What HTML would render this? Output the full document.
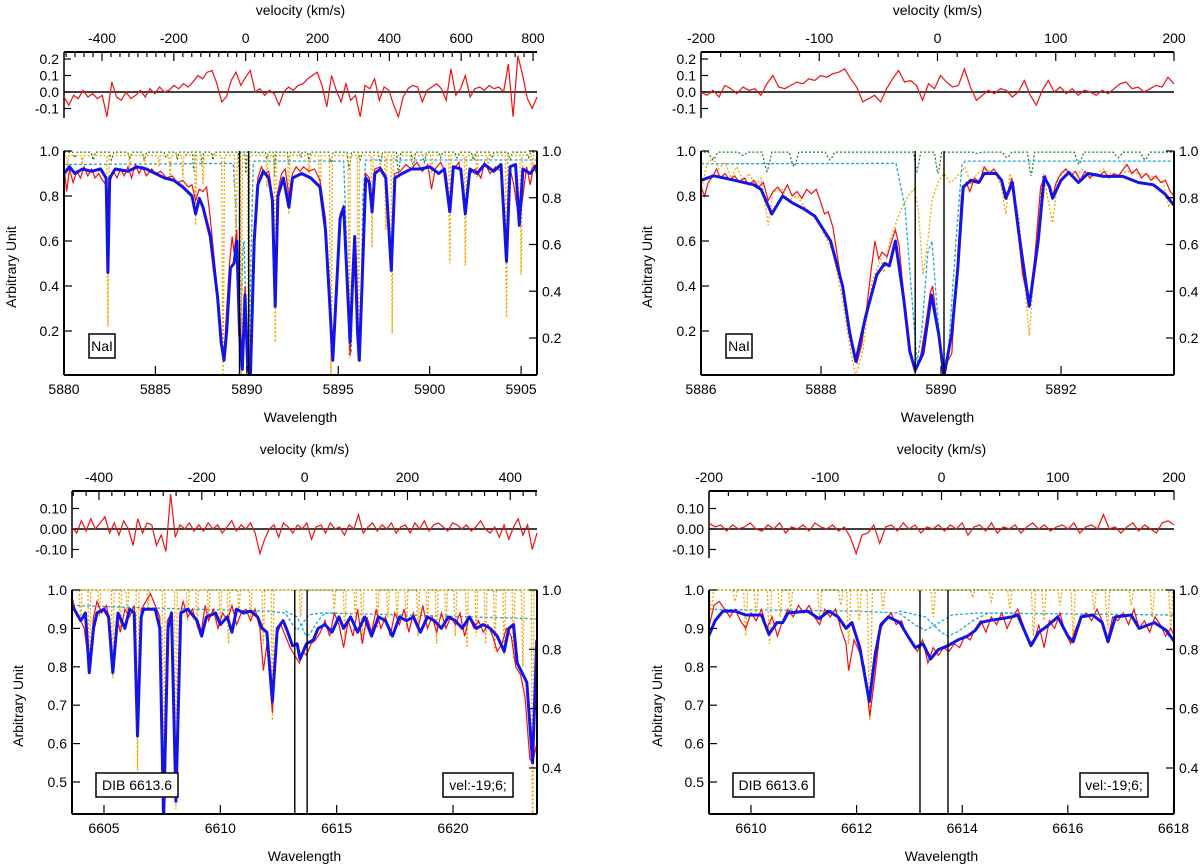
<!DOCTYPE html>
<html><head><meta charset="utf-8"><title>Spectral fits</title>
<style>
html,body{margin:0;padding:0;background:#fff;}
svg{display:block;font-family:"Liberation Sans",sans-serif;}
</style></head>
<body>
<svg id="chart" width="1200" height="868" viewBox="0 0 1200 868" xmlns="http://www.w3.org/2000/svg"></svg>
<script>
// ---------------- DATA ----------------
const topCyan = [[5880,0.94],[5889.25,0.945],[5889.4,0.75],[5889.5,0.4],[5889.6,0.06],[5889.68,0.2],[5889.78,0.55],[5889.85,0.6],[5889.92,0.35],[5890.02,0.02],[5890.12,0.1],[5890.25,0.6],[5890.35,0.94],[5890.4,0.955],[5895.3,0.955],[5895.45,0.6],[5895.6,0.12],[5895.7,0.1],[5895.85,0.55],[5895.95,0.6],[5896.1,0.07],[5896.2,0.1],[5896.35,0.8],[5896.5,0.96],[5906,0.96]];
const topGreenDips = [[5880.6,0.97,0.12],[5881.6,0.96,0.12],[5882.6,0.96,0.12],[5883.6,0.97,0.12],[5884.4,0.96,0.12],[5885.6,0.97,0.12],[5886.2,0.96,0.08],[5886.7,0.98,0.08],[5887.1,0.91,0.08],[5887.55,0.93,0.08],[5888.15,0.96,0.08],[5889.6,0.91,0.06],[5889.95,0.9,0.06],[5890.6,0.99,0.08],[5891.1,0.97,0.08],[5891.5,0.89,0.06],[5892.3,0.94,0.08],[5892.95,0.97,0.08],[5893.4,0.96,0.08],[5894.6,0.95,0.12],[5895.6,0.92,0.12],[5896.2,0.96,0.12],[5897.3,0.94,0.12],[5898.3,0.9,0.12],[5899.1,0.93,0.12],[5899.7,0.95,0.12],[5900.6,0.97,0.12],[5901.5,0.97,0.12],[5902.4,0.96,0.12],[5903.4,0.97,0.12],[5904.4,0.96,0.12],[5905.4,0.97,0.12]];

const tlFit = [[5880,0.90],[5880.3,0.93],[5880.6,0.90],[5881,0.92],[5881.5,0.91],[5882,0.92],[5882.3,0.88],[5882.4,0.46],[5882.5,0.88],[5882.8,0.92],[5883.5,0.91],[5884,0.93],[5884.5,0.92],[5885,0.90],[5885.5,0.88],[5886,0.87],[5886.5,0.84],[5887,0.80],[5887.2,0.72],[5887.4,0.79],[5887.6,0.75],[5888,0.62],[5888.4,0.35],[5888.6,0.15],[5888.75,0.07],[5888.9,0.20],[5889.1,0.48],[5889.3,0.50],[5889.45,0.60],[5889.6,0.20],[5889.75,0.03],[5889.9,0.36],[5890.05,0.03],[5890.2,0.01],[5890.4,0.60],[5890.6,0.85],[5890.9,0.91],[5891.2,0.88],[5891.4,0.78],[5891.55,0.31],[5891.7,0.80],[5892,0.88],[5892.3,0.75],[5892.5,0.88],[5893,0.90],[5893.5,0.88],[5894,0.84],[5894.3,0.65],[5894.55,0.30],[5894.7,0.07],[5894.85,0.30],[5895.1,0.70],[5895.3,0.75],[5895.5,0.40],[5895.65,0.15],[5895.8,0.45],[5895.9,0.62],[5896.05,0.20],[5896.15,0.07],[5896.3,0.40],[5896.5,0.88],[5896.7,0.86],[5896.85,0.73],[5897,0.90],[5897.3,0.92],[5897.6,0.88],[5897.9,0.47],[5898.1,0.88],[5898.5,0.90],[5899,0.92],[5899.5,0.92],[5900,0.93],[5900.5,0.90],[5900.8,0.92],[5901.1,0.73],[5901.3,0.93],[5901.7,0.92],[5901.95,0.72],[5902.2,0.92],[5902.6,0.90],[5903,0.94],[5903.5,0.91],[5903.9,0.94],[5904.2,0.51],[5904.4,0.93],[5904.7,0.94],[5904.9,0.67],[5905.1,0.92],[5905.5,0.90],[5905.9,0.94]];
const tlObs = [[5880,0.93],[5880.15,0.82],[5880.3,0.92],[5880.5,0.86],[5880.7,0.91],[5880.9,0.88],[5881.1,0.93],[5881.3,0.89],[5881.5,0.92],[5881.7,0.88],[5881.9,0.90],[5882.1,0.87],[5882.3,0.85],[5882.4,0.48],[5882.5,0.86],[5882.7,0.91],[5882.9,0.88],[5883.1,0.92],[5883.3,0.89],[5883.5,0.93],[5883.7,0.88],[5883.9,0.94],[5884.1,0.90],[5884.3,0.93],[5884.5,0.89],[5884.8,0.92],[5885,0.90],[5885.3,0.91],[5885.6,0.88],[5885.9,0.89],[5886.2,0.86],[5886.5,0.87],[5886.8,0.84],[5887,0.85],[5887.2,0.78],[5887.4,0.83],[5887.6,0.82],[5887.8,0.84],[5888,0.70],[5888.3,0.45],[5888.55,0.15],[5888.75,0.08],[5888.9,0.30],[5889.05,0.50],[5889.2,0.62],[5889.3,0.55],[5889.45,0.65],[5889.6,0.20],[5889.75,0.03],[5889.9,0.40],[5890.05,0.05],[5890.2,0.02],[5890.4,0.60],[5890.6,0.88],[5890.8,0.93],[5891,0.90],[5891.2,0.91],[5891.4,0.80],[5891.55,0.32],[5891.7,0.82],[5891.9,0.90],[5892.1,0.92],[5892.3,0.80],[5892.5,0.90],[5892.7,0.93],[5892.9,0.91],[5893.1,0.93],[5893.4,0.91],[5893.7,0.92],[5894,0.87],[5894.3,0.70],[5894.55,0.30],[5894.7,0.08],[5894.85,0.30],[5895.1,0.72],[5895.3,0.76],[5895.5,0.35],[5895.65,0.09],[5895.8,0.45],[5895.9,0.60],[5896.05,0.20],[5896.15,0.08],[5896.3,0.40],[5896.5,0.90],[5896.7,0.88],[5896.85,0.75],[5897,0.92],[5897.3,0.93],[5897.6,0.89],[5897.9,0.48],[5898.1,0.90],[5898.4,0.91],[5898.7,0.94],[5899,0.92],[5899.3,0.95],[5899.6,0.91],[5899.9,0.94],[5900.1,0.83],[5900.3,0.92],[5900.6,0.95],[5900.9,0.90],[5901.1,0.75],[5901.3,0.92],[5901.6,0.95],[5901.95,0.74],[5902.2,0.90],[5902.5,0.92],[5902.8,0.88],[5903,0.95],[5903.3,0.90],[5903.6,0.93],[5903.9,0.91],[5904.2,0.52],[5904.4,0.92],[5904.6,0.85],[5904.9,0.68],[5905.1,0.80],[5905.3,0.93],[5905.5,0.85],[5905.7,0.94],[5905.9,0.88]];
const tlTellDips = [[5880.2,0.93,0.06],[5881,0.94,0.06],[5882.4,0.22,0.06],[5883.6,0.93,0.06],[5884.4,0.94,0.06],[5885.2,0.93,0.06],[5885.8,0.88,0.06],[5886.5,0.88,0.06],[5887.2,0.67,0.06],[5887.6,0.85,0.06],[5888.7,0.0,0.08],[5889.4,0.6,0.08],[5889.7,0.0,0.06],[5890.1,0.0,0.06],[5891.1,0.84,0.06],[5891.55,0.15,0.06],[5892.3,0.72,0.06],[5893.4,0.9,0.06],[5894.0,0.80,0.08],[5894.6,0.0,0.08],[5895.6,0.08,0.06],[5896.1,0.07,0.06],[5896.85,0.57,0.06],[5897.6,0.65,0.06],[5897.95,0.19,0.06],[5899,0.95,0.06],[5900.1,0.90,0.06],[5901.1,0.50,0.06],[5901.95,0.49,0.06],[5902.6,0.88,0.06],[5903.2,0.94,0.06],[5904.2,0.26,0.06],[5905,0.45,0.06],[5905.6,0.90,0.06]];
const tlResid = [-0.03,-0.08,-0.02,-0.04,0.01,-0.03,-0.01,-0.04,-0.02,-0.15,0.06,-0.03,-0.05,0.00,-0.04,-0.02,0.01,-0.03,0.02,-0.01,0.03,0.00,0.01,0.04,0.02,0.05,0.03,0.06,0.10,0.08,0.12,0.13,0.05,-0.06,-0.03,0.07,0.12,0.04,0.09,0.13,0.00,0.02,-0.02,0.01,-0.01,-0.08,0.00,0.03,0.01,0.04,0.05,0.08,0.10,0.12,0.04,-0.09,0.10,0.01,-0.06,0.05,-0.05,-0.02,-0.15,0.04,0.02,0.08,-0.05,0.03,0.01,-0.08,-0.15,-0.03,0.02,0.04,0.03,-0.06,0.01,0.03,0.05,0.02,-0.05,0.14,-0.02,0.02,0.10,-0.03,0.02,0.03,0.01,0.04,0.02,0.03,0.00,0.17,-0.15,0.22,0.10,-0.04,-0.10,-0.03];
const tlVelTicks = [-400,-200,0,200,400,600,800];
const tlWaveTicks = [5880,5885,5890,5895,5900,5905];
const tlRefLines = [5889.6,5890.1];

const trFit = [[5886,0.87],[5886.21,0.89],[5886.44,0.877],[5886.88,0.85],[5887.0,0.83],[5887.18,0.72],[5887.36,0.80],[5887.52,0.77],[5887.7,0.745],[5887.9,0.71],[5888.16,0.60],[5888.36,0.40],[5888.48,0.19],[5888.58,0.065],[5888.74,0.26],[5888.93,0.45],[5889.06,0.50],[5889.14,0.49],[5889.24,0.60],[5889.38,0.34],[5889.48,0.11],[5889.57,0.025],[5889.7,0.10],[5889.84,0.36],[5889.96,0.19],[5890.05,0.0],[5890.18,0.19],[5890.28,0.48],[5890.37,0.84],[5890.5,0.87],[5890.63,0.86],[5890.72,0.90],[5890.92,0.90],[5891.01,0.87],[5891.08,0.79],[5891.19,0.86],[5891.3,0.63],[5891.47,0.31],[5891.62,0.60],[5891.72,0.885],[5891.81,0.84],[5891.86,0.79],[5892.0,0.87],[5892.13,0.905],[5892.29,0.86],[5892.45,0.90],[5892.71,0.887],[5893.03,0.887],[5893.29,0.86],[5893.54,0.85],[5893.73,0.81],[5893.88,0.76]];
const trObs = [[5886,0.84],[5886.06,0.80],[5886.12,0.86],[5886.2,0.89],[5886.26,0.92],[5886.32,0.88],[5886.4,0.90],[5886.48,0.87],[5886.56,0.89],[5886.64,0.86],[5886.72,0.88],[5886.8,0.85],[5886.88,0.87],[5886.96,0.84],[5887.04,0.86],[5887.12,0.78],[5887.2,0.82],[5887.28,0.84],[5887.36,0.81],[5887.44,0.85],[5887.52,0.80],[5887.6,0.82],[5887.68,0.79],[5887.76,0.83],[5887.84,0.81],[5887.92,0.83],[5888,0.77],[5888.06,0.72],[5888.12,0.73],[5888.2,0.66],[5888.28,0.52],[5888.36,0.39],[5888.44,0.24],[5888.52,0.14],[5888.6,0.06],[5888.68,0.14],[5888.76,0.30],[5888.84,0.48],[5888.9,0.60],[5888.96,0.52],[5889.02,0.55],[5889.1,0.53],[5889.18,0.60],[5889.24,0.65],[5889.3,0.58],[5889.38,0.36],[5889.48,0.12],[5889.57,0.03],[5889.66,0.09],[5889.74,0.22],[5889.82,0.37],[5889.86,0.40],[5889.94,0.22],[5890.02,0.03],[5890.1,0.06],[5890.18,0.10],[5890.26,0.44],[5890.34,0.80],[5890.42,0.86],[5890.48,0.82],[5890.56,0.88],[5890.64,0.86],[5890.72,0.93],[5890.8,0.90],[5890.88,0.92],[5890.96,0.89],[5891.04,0.85],[5891.1,0.80],[5891.18,0.88],[5891.26,0.70],[5891.36,0.45],[5891.47,0.32],[5891.56,0.52],[5891.66,0.84],[5891.74,0.89],[5891.8,0.84],[5891.86,0.80],[5891.92,0.86],[5892,0.90],[5892.08,0.92],[5892.16,0.89],[5892.24,0.91],[5892.32,0.87],[5892.4,0.91],[5892.48,0.88],[5892.56,0.90],[5892.64,0.89],[5892.72,0.91],[5892.8,0.88],[5892.88,0.90],[5892.96,0.89],[5893.04,0.92],[5893.1,0.94],[5893.18,0.90],[5893.26,0.92],[5893.34,0.88],[5893.42,0.90],[5893.5,0.87],[5893.58,0.89],[5893.66,0.86],[5893.74,0.87],[5893.82,0.82],[5893.88,0.80]];
const trTell = [[5886,0.82],[5886.1,0.94],[5886.2,0.97],[5886.3,0.92],[5886.4,0.95],[5886.5,0.88],[5886.6,0.93],[5886.7,0.86],[5886.8,0.90],[5886.9,0.85],[5887.0,0.88],[5887.12,0.67],[5887.2,0.82],[5887.35,0.83],[5887.45,0.78],[5887.6,0.80],[5887.7,0.76],[5887.85,0.72],[5888.0,0.66],[5888.2,0.55],[5888.35,0.35],[5888.5,0.10],[5888.58,0.0],[5888.7,0.12],[5888.85,0.42],[5889.0,0.52],[5889.05,0.46],[5889.15,0.60],[5889.3,0.72],[5889.45,0.80],[5889.55,0.83],[5889.62,0.75],[5889.7,0.45],[5889.78,0.60],[5889.85,0.78],[5889.95,0.86],[5890.05,0.90],[5890.15,0.86],[5890.25,0.88],[5890.4,0.93],[5890.5,0.85],[5890.6,0.90],[5890.75,0.92],[5890.9,0.90],[5891.0,0.85],[5891.08,0.72],[5891.15,0.90],[5891.3,0.70],[5891.47,0.18],[5891.6,0.62],[5891.7,0.90],[5891.86,0.68],[5891.95,0.88],[5892.1,0.92],[5892.25,0.88],[5892.35,0.92],[5892.5,0.88],[5892.7,0.92],[5892.9,0.89],[5893.1,0.91],[5893.3,0.90],[5893.5,0.89],[5893.7,0.86],[5893.8,0.75],[5893.88,0.82]];
const trResid = [0.00,-0.02,0.01,-0.03,0.04,0.02,-0.01,0.03,0.01,0.02,-0.02,0.05,0.10,0.03,0.02,0.04,0.06,0.05,0.08,0.07,0.10,0.09,0.11,0.12,0.14,0.08,0.03,-0.06,-0.04,-0.02,-0.06,0.02,0.08,0.13,0.06,0.07,0.04,-0.05,0.05,0.02,0.10,0.06,0.03,0.04,0.14,0.03,-0.05,-0.02,0.01,-0.01,0.02,0.01,-0.03,0.00,0.07,-0.02,-0.08,0.01,0.07,0.00,0.03,-0.01,0.02,-0.02,0.01,0.00,-0.02,0.01,-0.01,0.02,0.05,0.06,0.02,0.03,0.00,0.02,0.04,0.03,0.09,0.05];
const trVelTicks = [-200,-100,0,100,200];
const trWaveTicks = [5886,5888,5890,5892];
const trRefLines = [5889.57,5890.05];

const botCyanA = [[6603.63,0.96],[6606,0.955],[6609,0.95],[6612,0.945],[6612.8,0.94],[6613.1,0.91],[6613.3,0.895],[6613.5,0.91],[6613.8,0.935],[6614.3,0.94],[6618,0.935],[6623.6,0.925]];
const botCyanB = [[6612.8,0.945],[6613.3,0.93],[6613.6,0.89],[6613.73,0.88],[6613.9,0.89],[6614.2,0.92],[6614.5,0.94],[6615,0.94]];
const botGreen = [[6603.6,1.0],[6623.7,1.0]];

const blFit = [[6603.63,0.96],[6604.0,0.92],[6604.2,0.94],[6604.37,0.785],[6604.55,0.90],[6604.7,0.94],[6605,0.95],[6605.2,0.93],[6605.38,0.785],[6605.6,0.94],[6605.9,0.90],[6606.1,0.95],[6606.3,0.94],[6606.44,0.62],[6606.6,0.93],[6606.7,0.95],[6607.2,0.95],[6607.4,0.90],[6607.56,0.40],[6607.75,0.90],[6607.9,0.94],[6608.09,0.45],[6608.3,0.94],[6608.6,0.95],[6609,0.92],[6609.2,0.88],[6609.4,0.93],[6609.8,0.94],[6610,0.91],[6610.3,0.93],[6610.5,0.89],[6610.7,0.95],[6611.0,0.94],[6611.3,0.945],[6611.6,0.93],[6611.8,0.90],[6612.0,0.89],[6612.24,0.71],[6612.45,0.90],[6612.7,0.92],[6612.9,0.89],[6613.1,0.855],[6613.3,0.86],[6613.43,0.82],[6613.7,0.86],[6614,0.87],[6614.2,0.90],[6614.5,0.91],[6614.8,0.89],[6615.1,0.93],[6615.3,0.90],[6615.6,0.93],[6615.9,0.89],[6616.2,0.93],[6616.5,0.88],[6616.8,0.93],[6617.1,0.92],[6617.4,0.88],[6617.7,0.93],[6618,0.92],[6618.3,0.93],[6618.6,0.89],[6618.9,0.93],[6619.2,0.92],[6619.5,0.90],[6619.8,0.93],[6620.1,0.92],[6620.4,0.90],[6620.7,0.93],[6621.0,0.90],[6621.3,0.91],[6621.6,0.90],[6621.9,0.88],[6622.2,0.84],[6622.4,0.90],[6622.6,0.91],[6622.76,0.81],[6623.17,0.76],[6623.42,0.55],[6623.6,0.87]];
const blObs = [[6603.63,0.98],[6603.8,0.94],[6604.0,0.92],[6604.15,0.90],[6604.37,0.80],[6604.55,0.93],[6604.7,0.97],[6604.9,0.94],[6605.1,0.96],[6605.25,0.92],[6605.38,0.79],[6605.55,0.93],[6605.7,0.89],[6605.9,0.95],[6606.1,0.93],[6606.3,0.96],[6606.44,0.63],[6606.6,0.95],[6606.8,0.97],[6607.0,0.99],[6607.2,0.96],[6607.4,0.93],[6607.56,0.45],[6607.72,0.92],[6607.9,0.94],[6608.09,0.47],[6608.25,0.93],[6608.4,0.97],[6608.6,0.93],[6608.8,0.95],[6609.0,0.91],[6609.15,0.88],[6609.35,0.96],[6609.5,0.92],[6609.7,0.95],[6609.9,0.90],[6610.1,0.94],[6610.3,0.92],[6610.5,0.96],[6610.7,0.91],[6610.9,0.94],[6611.1,0.95],[6611.3,0.92],[6611.5,0.95],[6611.7,0.90],[6611.85,0.79],[6612.0,0.86],[6612.24,0.68],[6612.4,0.88],[6612.6,0.91],[6612.8,0.88],[6613.0,0.85],[6613.2,0.83],[6613.4,0.81],[6613.55,0.84],[6613.7,0.83],[6613.9,0.86],[6614.1,0.87],[6614.3,0.89],[6614.5,0.92],[6614.7,0.88],[6614.9,0.94],[6615.1,0.91],[6615.3,0.85],[6615.5,0.92],[6615.7,0.88],[6615.9,0.95],[6616.1,0.86],[6616.3,0.93],[6616.5,0.89],[6616.7,0.95],[6616.9,0.90],[6617.1,0.93],[6617.3,0.88],[6617.5,0.94],[6617.7,0.91],[6617.9,0.95],[6618.1,0.89],[6618.3,0.94],[6618.5,0.90],[6618.7,0.96],[6618.9,0.90],[6619.1,0.93],[6619.3,0.89],[6619.5,0.94],[6619.7,0.90],[6619.9,0.93],[6620.1,0.91],[6620.3,0.94],[6620.5,0.88],[6620.7,0.93],[6620.9,0.90],[6621.1,0.92],[6621.3,0.89],[6621.5,0.91],[6621.7,0.88],[6621.9,0.84],[6622.1,0.86],[6622.3,0.90],[6622.5,0.88],[6622.7,0.80],[6622.9,0.78],[6623.1,0.72],[6623.3,0.56],[6623.42,0.55],[6623.6,0.60]];
const blTellDips = [[6604.0,0.92,0.06],[6604.37,0.78,0.06],[6604.8,0.93,0.06],[6605.38,0.77,0.06],[6605.7,0.90,0.06],[6606.0,0.93,0.06],[6606.44,0.53,0.06],[6606.9,0.95,0.06],[6607.56,0.42,0.06],[6608.09,0.43,0.06],[6608.6,0.92,0.06],[6609.0,0.90,0.06],[6609.5,0.93,0.06],[6610.0,0.92,0.06],[6610.35,0.86,0.06],[6610.8,0.94,0.06],[6611.3,0.93,0.06],[6611.85,0.86,0.06],[6612.24,0.66,0.06],[6613.45,0.93,0.06],[6614.9,0.95,0.06],[6615.35,0.88,0.06],[6615.8,0.93,0.06],[6616.1,0.88,0.06],[6616.75,0.90,0.06],[6617.2,0.93,0.06],[6617.6,0.93,0.06],[6618.0,0.90,0.06],[6618.5,0.88,0.06],[6618.9,0.92,0.06],[6619.3,0.86,0.06],[6619.7,0.90,0.06],[6620.1,0.88,0.06],[6620.6,0.85,0.06],[6621.0,0.88,0.06],[6621.4,0.86,0.06],[6621.8,0.84,0.06],[6622.2,0.83,0.06],[6622.6,0.82,0.06],[6623.0,0.80,0.06],[6623.42,0.34,0.06]];
const blResid = [0.01,-0.02,0.04,-0.01,0.05,0.00,0.03,0.06,-0.02,0.03,-0.03,0.04,0.00,-0.08,0.05,-0.02,0.03,0.02,-0.08,-0.03,-0.11,0.17,-0.04,0.02,0.00,0.03,-0.01,0.02,-0.01,0.03,0.00,0.02,-0.02,0.01,0.04,-0.01,0.02,0.00,0.03,-0.02,-0.12,-0.05,0.00,0.02,-0.04,0.03,0.01,-0.02,0.02,0.00,0.03,-0.05,0.01,0.02,-0.02,0.03,0.00,0.01,-0.03,0.02,0.00,0.07,-0.02,0.01,0.03,-0.01,0.02,0.00,0.03,-0.02,0.01,0.02,-0.02,0.03,0.00,0.04,-0.01,0.02,0.03,0.01,-0.01,0.03,0.02,0.00,0.02,-0.01,0.01,0.04,0.00,-0.02,0.01,-0.04,0.02,-0.05,0.01,0.05,-0.03,0.02,-0.10,-0.02];
const blVelTicks = [-400,-200,0,200,400];
const blWaveTicks = [6605,6610,6615,6620];
const blRefLines = [6613.2,6613.73];

const brFit = [[6609.2,0.88],[6609.32,0.92],[6609.47,0.945],[6609.7,0.945],[6609.9,0.935],[6610.2,0.935],[6610.34,0.885],[6610.49,0.915],[6610.6,0.915],[6610.7,0.94],[6611.07,0.945],[6611.29,0.925],[6611.47,0.945],[6611.65,0.93],[6611.8,0.90],[6611.91,0.915],[6612.06,0.85],[6612.24,0.71],[6612.35,0.83],[6612.46,0.91],[6612.6,0.93],[6612.82,0.915],[6612.97,0.88],[6613.11,0.85],[6613.26,0.86],[6613.4,0.82],[6613.55,0.845],[6613.73,0.855],[6613.92,0.87],[6614.1,0.88],[6614.25,0.895],[6614.35,0.915],[6614.5,0.92],[6614.72,0.925],[6614.94,0.93],[6615.05,0.935],[6615.16,0.90],[6615.3,0.855],[6615.45,0.89],[6615.6,0.905],[6615.81,0.93],[6616.0,0.88],[6616.1,0.865],[6616.25,0.93],[6616.47,0.935],[6616.65,0.915],[6616.76,0.865],[6616.9,0.93],[6617.2,0.935],[6617.35,0.90],[6617.64,0.915],[6617.86,0.895],[6618.02,0.865]];
const brObs = [[6609.2,0.90],[6609.3,0.96],[6609.4,0.97],[6609.5,0.95],[6609.6,0.93],[6609.7,0.95],[6609.8,0.92],[6609.9,0.90],[6610.0,0.94],[6610.1,0.92],[6610.2,0.95],[6610.3,0.90],[6610.4,0.93],[6610.5,0.88],[6610.6,0.92],[6610.7,0.95],[6610.8,0.93],[6610.9,0.96],[6611.0,0.94],[6611.1,0.96],[6611.2,0.93],[6611.3,0.91],[6611.4,0.95],[6611.5,0.93],[6611.6,0.95],[6611.7,0.90],[6611.8,0.86],[6611.85,0.79],[6611.95,0.87],[6612.05,0.84],[6612.15,0.80],[6612.25,0.67],[6612.35,0.78],[6612.45,0.90],[6612.55,0.92],[6612.65,0.94],[6612.75,0.91],[6612.85,0.92],[6612.95,0.88],[6613.05,0.86],[6613.15,0.84],[6613.25,0.87],[6613.35,0.81],[6613.45,0.85],[6613.55,0.83],[6613.65,0.85],[6613.75,0.84],[6613.85,0.86],[6613.95,0.85],[6614.05,0.88],[6614.15,0.87],[6614.25,0.90],[6614.35,0.92],[6614.45,0.89],[6614.55,0.93],[6614.65,0.91],[6614.75,0.94],[6614.85,0.90],[6614.95,0.93],[6615.05,0.95],[6615.15,0.91],[6615.25,0.87],[6615.35,0.86],[6615.45,0.91],[6615.55,0.85],[6615.65,0.92],[6615.75,0.90],[6615.85,0.94],[6615.95,0.89],[6616.05,0.86],[6616.15,0.90],[6616.25,0.93],[6616.35,0.94],[6616.45,0.92],[6616.55,0.95],[6616.65,0.92],[6616.75,0.87],[6616.85,0.93],[6616.95,0.92],[6617.05,0.94],[6617.15,0.91],[6617.25,0.95],[6617.35,0.90],[6617.45,0.92],[6617.55,0.89],[6617.65,0.93],[6617.75,0.91],[6617.85,0.88],[6617.95,0.90],[6618.05,0.87]];
const brTellDips = [[6609.25,0.94,0.04],[6609.7,0.97,0.04],[6609.9,0.88,0.04],[6610.1,0.93,0.04],[6610.35,0.86,0.04],[6610.55,0.93,0.04],[6610.75,0.95,0.04],[6611.3,0.93,0.04],[6611.7,0.96,0.04],[6611.85,0.86,0.04],[6612.05,0.92,0.04],[6612.25,0.66,0.05],[6612.5,0.95,0.04],[6613.45,0.93,0.04],[6614.2,0.98,0.04],[6614.55,0.97,0.04],[6614.9,0.95,0.04],[6615.35,0.88,0.04],[6615.55,0.92,0.04],[6615.85,0.96,0.04],[6616.1,0.88,0.04],[6616.5,0.95,0.04],[6616.75,0.90,0.04],[6617.2,0.96,0.04],[6617.6,0.93,0.04],[6617.95,0.90,0.04]];
const brResid = [0.03,0.01,0.02,-0.01,0.02,0.00,0.01,0.03,0.00,-0.01,0.02,0.00,0.03,-0.02,0.01,0.00,0.02,-0.01,0.03,0.01,0.00,0.02,-0.01,0.01,-0.04,-0.12,-0.03,-0.02,0.02,-0.07,0.01,0.02,-0.01,0.03,0.00,0.02,-0.02,0.01,0.00,0.02,-0.01,0.02,0.00,0.03,-0.03,0.01,0.02,-0.01,0.03,-0.02,0.01,0.00,0.02,-0.02,0.01,0.03,0.00,0.02,-0.01,0.01,0.02,0.00,0.03,-0.02,0.01,0.02,0.00,0.07,0.00,0.01,-0.02,0.01,0.03,-0.01,0.02,0.00,-0.02,0.03,0.04,0.02];
const brVelTicks = [-200,-100,0,100,200];
const brWaveTicks = [6610,6612,6614,6616,6618];
const brRefLines = [6613.2,6613.73];

const leftTicksTop = [0.2,0.4,0.6,0.8,1.0];
const rightTicksTop = [0.2,0.4,0.6,0.8,1.0];
const leftTicksBot = [0.5,0.6,0.7,0.8,0.9,1.0];
const rightTicksBot = [0.4,0.6,0.8,1.0];
const residTicksTop = [0.2,0.1,0.0,-0.1];
const residTicksBot = [0.10,0.00,-0.10];

// ---------------- RENDER ----------------
const NS='http://www.w3.org/2000/svg';
const svg=document.getElementById('chart');
function el(tag,attrs,parent){const e=document.createElementNS(NS,tag);for(const k in attrs)e.setAttribute(k,attrs[k]);(parent||svg).appendChild(e);return e;}
function lin(d0,r0,d1,r1){return v=>r0+(v-d0)*(r1-r0)/(d1-d0);}
function txt(parent,x,y,s,anchor,name,extra){const t=el('text',Object.assign({x:x,y:y,'font-size':14,'text-anchor':anchor||'middle',fill:'#000'},extra||{}),parent);t.textContent=s;return t;}
function dipsToPts(dips,x0,x1,base){const s=dips.slice().sort((a,b)=>a[0]-b[0]);const p=[[x0,base]];s.forEach(d=>{p.push([d[0]-d[2],base]);p.push([d[0]-d[2]*0.35,base-(base-d[1])*0.75]);p.push([d[0],d[1]]);p.push([d[0]+d[2]*0.35,base-(base-d[1])*0.75]);p.push([d[0]+d[2],base]);});p.push([x1,base]);return p;}

const panels=[
 {id:'top-left',x0:64,x1:537,wl:[5880,5905.87],vel:[-505.8,811],velTicks:tlVelTicks,velMinor:25,rowTop:0,resTop:52,resBot:118,res0:92,resPer:165,resTicks:residTicksTop,resDec:1,mTop:151,mBot:375,yl:[1.0,151,0.2,331],yr:[1.0,151,0.2,338],lt:leftTicksTop,rt:rightTicksTop,ydec:1,wt:tlWaveTicks,ref:tlRefLines,fit:tlFit,obs:tlObs,tell:dipsToPts(tlTellDips,5880,5906,0.98),cyan:[topCyan],green:dipsToPts(topGreenDips,5880,5906,0.995),resid:tlResid,auX:12,boxes:[{x:89,w:26,t:'NaI',n:'naI-label-box'}],boxY:334},
 {id:'top-right',x0:701,x1:1174,wl:[5886,5893.883],vel:[-200,200],velTicks:trVelTicks,velMinor:100/6,rowTop:0,resTop:52,resBot:118,res0:92,resPer:165,resTicks:residTicksTop,resDec:1,mTop:151,mBot:375,yl:[1.0,151,0.2,331],yr:[1.0,151,0.2,338],lt:leftTicksTop,rt:rightTicksTop,ydec:1,wt:trWaveTicks,ref:trRefLines,fit:trFit,obs:trObs,tell:trTell,cyan:[topCyan],green:dipsToPts(topGreenDips,5880,5906,0.995),resid:trResid,auX:648,boxes:[{x:726,w:26,t:'NaI',n:'naI-label-box'}],boxY:334},
 {id:'bottom-left',x0:72,x1:537,wl:[6603.625,6623.61],vel:[-452.5,452],velTicks:blVelTicks,velMinor:25,rowTop:439,resTop:491,resBot:558,res0:529,resPer:205,resTicks:residTicksBot,resDec:2,mTop:590,mBot:814,yl:[1.0,590,0.5,782],yr:[1.0,590,0.4,768],lt:leftTicksBot,rt:rightTicksBot,ydec:1,wt:blWaveTicks,ref:blRefLines,fit:blFit,obs:blObs,tell:dipsToPts(blTellDips,6603.6,6623.7,1.0),cyan:[botCyanA,botCyanB],green:botGreen,resid:blResid,auX:19,boxes:[{x:96,w:82,t:'DIB 6613.6',n:'dib-label-box'},{x:443,w:70,t:'vel:-19;6;',n:'velocity-label-box'}],boxY:773},
 {id:'bottom-right',x0:709,x1:1174,wl:[6609.205,6618.01],vel:[-200,200],velTicks:brVelTicks,velMinor:100/6,rowTop:439,resTop:491,resBot:558,res0:529,resPer:205,resTicks:residTicksBot,resDec:2,mTop:590,mBot:814,yl:[1.0,590,0.5,782],yr:[1.0,590,0.4,768],lt:leftTicksBot,rt:rightTicksBot,ydec:1,wt:brWaveTicks,ref:brRefLines,fit:brFit,obs:brObs,tell:dipsToPts(brTellDips,6609.1,6618.1,1.0),cyan:[botCyanA,botCyanB],green:botGreen,resid:brResid,auX:658,boxes:[{x:733,w:81,t:'DIB 6613.6',n:'dib-label-box'},{x:1080,w:68,t:'vel:-19;6;',n:'velocity-label-box'}],boxY:773}
];

panels.forEach((P,pi)=>{
 const g=el('g',{});
 
 
 const xs=lin(P.wl[0],P.x0,P.wl[1],P.x1);
 const vx=lin(P.vel[0],P.x0,P.vel[1],P.x1);
 const yl=lin(P.yl[0],P.yl[1],P.yl[2],P.yl[3]);
 const yr=lin(P.yr[0],P.yr[1],P.yr[2],P.yr[3]);
 const ry=v=>P.res0-v*P.resPer;
 const mid=(P.x0+P.x1)/2;
 // velocity axis
 txt(g,mid,P.rowTop+15,'velocity (km/s)','middle','velocity-axis-title');
 const va=el('line',{x1:P.x0,y1:P.resTop,x2:P.x1,y2:P.resTop,stroke:'#000','stroke-width':2},g);
 
 const step=P.velMinor; let start=Math.ceil((P.vel[0]-1e-6)/step);
 for(let k=start;k*step<=P.vel[1]+1e-6;k++){const v=k*step;const major=P.velTicks.some(t=>Math.abs(t-v)<1e-6);
  const t=el('line',{x1:vx(v),y1:P.resTop,x2:vx(v),y2:P.resTop+(major?9:5),stroke:'#000','stroke-width':1.2},g);
  }
 P.velTicks.forEach(v=>txt(g,vx(v),P.rowTop+43,String(v),'middle','velocity-tick-label'));
 // residual panel
 const ra=el('line',{x1:P.x0,y1:P.resTop,x2:P.x0,y2:P.resBot,stroke:'#000','stroke-width':1.5},g);
 
 P.resTicks.forEach(v=>{const t=el('line',{x1:P.x0,y1:ry(v),x2:P.x0+7,y2:ry(v),stroke:'#000','stroke-width':1.2},g);
  
  txt(g,P.x0-5,ry(v)+5,v.toFixed(P.resDec),'end','residual-tick-label');});
 const zl=el('line',{x1:P.x0,y1:ry(0),x2:P.x1,y2:ry(0),stroke:'#000','stroke-width':1.5},g);
 
 const n=P.resid.length;
 const rd=P.resid.map((v,i)=>(i?'L':'M')+vx(P.vel[0]+(P.vel[1]-P.vel[0])*i/(n-1)).toFixed(1)+' '+ry(v).toFixed(1)).join(' ');
 const rp=el('path',{d:rd,fill:'none',stroke:'#ee1111','stroke-width':1.2},g);
 
 // main plot
 const cid='clip'+pi;
 const cp=el('clipPath',{id:cid},g);el('rect',{x:P.x0,y:P.mTop-4,width:P.x1-P.x0,height:P.mBot-P.mTop+4},cp);
 const sg=el('g',{'clip-path':'url(#'+cid+')'},g);
 
 const path=(pts)=>pts.map((p,i)=>(i?'L':'M')+xs(p[0]).toFixed(1)+' '+yl(p[1]).toFixed(1)).join(' ');
 const gp=el('path',{d:path(P.green),fill:'none',stroke:'#1f7a1f','stroke-width':1.2,'stroke-dasharray':'2 2'},sg);
 
 P.cyan.forEach(c=>{const cp2=el('path',{d:path(c),fill:'none',stroke:'#1aa8e0','stroke-width':1.3,'stroke-dasharray':'3 2'},sg);
  });
 const op=el('path',{d:path(P.tell),fill:'none',stroke:'#f2a600','stroke-width':1.3,'stroke-dasharray':'2 2'},sg);
 
 const obp=el('path',{d:path(P.obs),fill:'none',stroke:'#ee1111','stroke-width':1.2},sg);
 
 const fp=el('path',{d:path(P.fit),fill:'none',stroke:'#1414e6','stroke-width':3,'stroke-linejoin':'round'},sg);
 
 P.ref.forEach(w=>{const l=el('line',{x1:xs(w),y1:P.mTop,x2:xs(w),y2:P.mBot,stroke:'#000','stroke-width':1.4},g);
  });
 // axes
 [[P.x0,P.mTop,P.x0,P.mBot,'left-y-axis'],[P.x0,P.mBot,P.x1,P.mBot,'x-axis'],[P.x1,P.mTop,P.x1,P.mBot,'right-y-axis']].forEach(a=>{
  const l=el('line',{x1:a[0],y1:a[1],x2:a[2],y2:a[3],stroke:'#000','stroke-width':2},g);
  });
 P.lt.forEach(v=>{const t=el('line',{x1:P.x0,y1:yl(v),x2:P.x0+8,y2:yl(v),stroke:'#000','stroke-width':1.2},g);
  
  txt(g,P.x0-5,yl(v)+5,v.toFixed(P.ydec),'end','left-y-tick-label');});
 P.rt.forEach(v=>{const t=el('line',{x1:P.x1-8,y1:yr(v),x2:P.x1,y2:yr(v),stroke:'#000','stroke-width':1.2},g);
  
  txt(g,P.x1+5,yr(v)+5,v.toFixed(1),'start','right-y-tick-label');});
 P.wt.forEach(w=>{const t=el('line',{x1:xs(w),y1:P.mBot,x2:xs(w),y2:P.mBot-9,stroke:'#000','stroke-width':1.2},g);
  
  txt(g,xs(w),P.mBot+19,String(w),'middle','x-tick-label');});
 txt(g,mid,P.mBot+47,'Wavelength','middle','x-axis-title');
 const cy=(P.resTop+P.mBot)/2+ (P.mTop-P.resTop)/2;
 const at=txt(g,P.auX,(P.mTop+P.mBot)/2,'Arbitrary Unit','middle','y-axis-title');
 at.setAttribute('transform','rotate(-90 '+(P.auX+4)+' '+((P.mTop+P.mBot)/2)+')');
 P.boxes.forEach(b=>{const r=el('rect',{x:b.x,y:P.boxY,width:b.w,height:24,fill:'#fff',stroke:'#000','stroke-width':1.5},g);
  
  txt(g,b.x+b.w/2,P.boxY+17,b.t,'middle',b.n+'-text');});
});
</script>
</body></html>
